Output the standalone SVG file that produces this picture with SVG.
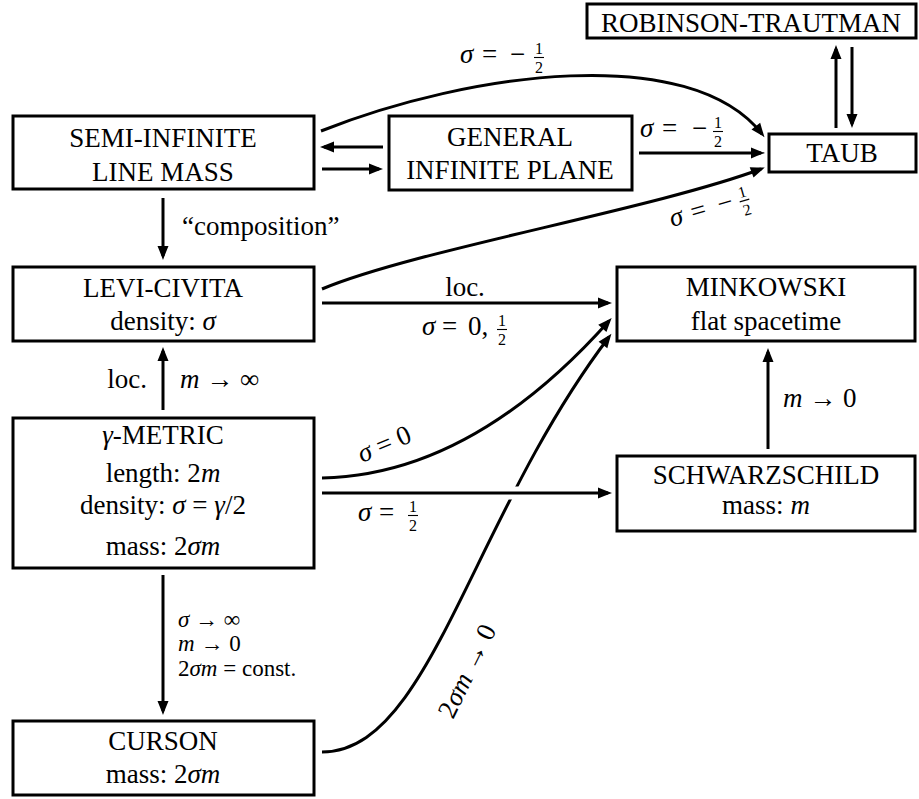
<svg xmlns="http://www.w3.org/2000/svg" width="919" height="799" viewBox="0 0 919 799">
<defs>
<style>
.box{fill:#fff;stroke:#000;stroke-width:3}
text{font-family:'Liberation Serif','DejaVu Serif',serif}
.t{font-size:27px;fill:#000;text-anchor:middle}
.l{font-size:27px;fill:#000}
.s{font-size:23px;fill:#000}
.fr{font-size:16px;fill:#000;text-anchor:middle}
.i{font-style:italic}
.c{fill:none;stroke:#000;stroke-width:3;marker-end:url(#ah)}
.bar{stroke:#000;stroke-width:1.1}
.gap{fill:none;stroke:#fff;stroke-width:13}
</style>
<marker id="ah" viewBox="-11 -6 16 12" refX="0" refY="0" markerWidth="16" markerHeight="12" orient="auto" markerUnits="userSpaceOnUse">
<path d="M4,0 Q-3,-2.6 -10,-5.5 L-10,5.5 Q-3,2.6 4,0 Z" fill="#000"/>
</marker>
</defs>
<rect width="919" height="799" fill="#fff"/>

<g id="robinson-trautman">
<rect class="box" x="587" y="4" width="329" height="34"/>
<text class="t" x="751" y="32">ROBINSON-TRAUTMAN</text>
</g>
<g id="taub">
<rect class="box" x="769" y="134" width="147" height="38"/>
<text class="t" x="842" y="162">TAUB</text>
</g>
<g id="semi-infinite">
<rect class="box" x="13" y="116" width="301" height="73"/>
<text class="t" x="163" y="147">SEMI-INFINITE</text>
<text class="t" x="163" y="181">LINE MASS</text>
</g>
<g id="general-plane">
<rect class="box" x="389" y="116" width="243" height="74"/>
<text class="t" x="510" y="146">GENERAL</text>
<text class="t" x="510" y="179">INFINITE PLANE</text>
</g>
<g id="levi-civita">
<rect class="box" x="13" y="267" width="301" height="74"/>
<text class="t" x="163" y="297">LEVI-CIVITA</text>
<text class="t" x="163" y="330">density: <tspan class="i">σ</tspan></text>
</g>
<g id="minkowski">
<rect class="box" x="617" y="267" width="298" height="74"/>
<text class="t" x="766" y="296">MINKOWSKI</text>
<text class="t" x="766" y="330">flat spacetime</text>
</g>
<g id="gamma-metric">
<rect class="box" x="13" y="418" width="301" height="150"/>
<text class="t" x="163" y="444"><tspan class="i">γ</tspan>-METRIC</text>
<text class="t" x="163" y="482">length: 2<tspan class="i">m</tspan></text>
<text class="t" x="163" y="514">density: <tspan class="i">σ</tspan> = <tspan class="i">γ</tspan>/2</text>
<text class="t" x="163" y="555">mass: 2<tspan class="i">σm</tspan></text>
</g>
<g id="schwarzschild">
<rect class="box" x="617" y="456" width="298" height="75"/>
<text class="t" x="766" y="484">SCHWARZSCHILD</text>
<text class="t" x="766" y="514">mass: <tspan class="i">m</tspan></text>
</g>
<g id="curson">
<rect class="box" x="13" y="721" width="301" height="74"/>
<text class="t" x="163" y="750">CURSON</text>
<text class="t" x="163" y="783">mass: 2<tspan class="i">σm</tspan></text>
</g>

<g id="connectors">
<path class="c" d="M836,128 V49"/>
<path class="c" d="M852,47 V124"/>
<path class="c" d="M321,131 C470,72 690,42 762,134"/>
<path class="c" d="M639,153 H761"/>
<path class="c" d="M322,289 C415,250 650,210 761,169"/>
<path class="c" d="M383,147 H324"/>
<path class="c" d="M322,169 H379"/>
<path class="c" d="M163,198 V256"/>
<path class="c" d="M163,410 V351"/>
<path class="c" d="M163,575 V711"/>
<path class="c" d="M322,303 H608"/>
<path class="c" d="M768,449 V352"/>
<path class="c" d="M322,478 C430,476 525,415 609,321"/>
<path class="c" d="M322,752 C430,752 470,520 609,337"/>
<path class="gap" d="M492,493 H524"/>
<path class="c" d="M322,493 H608"/>
</g>

<g id="labels">
<text class="l" x="460" y="63"><tspan class="i">σ</tspan></text>
<text class="l" x="482" y="63">=</text>
<text class="l" x="510" y="63">−</text>
<text class="fr" x="539" y="54">1</text><line class="bar" x1="534" y1="57.5" x2="544" y2="57.5"/><text class="fr" x="539" y="72.5">2</text>

<text class="l" x="640" y="137"><tspan class="i">σ</tspan></text>
<text class="l" x="662" y="137">=</text>
<text class="l" x="692" y="137">−</text>
<text class="fr" x="718" y="128">1</text><line class="bar" x1="713" y1="131.5" x2="723" y2="131.5"/><text class="fr" x="718" y="146.5">2</text>

<g transform="translate(672,227) rotate(-16)">
<text class="l" x="0" y="0"><tspan class="i">σ</tspan></text>
<text class="l" x="22" y="0">=</text>
<text class="l" x="50" y="0">−</text>
<text class="fr" x="77" y="-9">1</text><line class="bar" x1="72" y1="-5.5" x2="82" y2="-5.5"/><text class="fr" x="77" y="9.5">2</text>
</g>

<text class="t" x="465" y="296">loc.</text>
<text class="l" x="422" y="335"><tspan class="i">σ</tspan></text>
<text class="l" x="442" y="335">=</text>
<text class="l" x="468" y="335">0,</text>
<text class="fr" x="502" y="326">1</text><line class="bar" x1="497" y1="329.5" x2="507" y2="329.5"/><text class="fr" x="502" y="344.5">2</text>

<g transform="translate(362,463) rotate(-23)">
<text class="l" x="0" y="0"><tspan class="i">σ</tspan> = 0</text>
</g>

<text class="l" x="358" y="521"><tspan class="i">σ</tspan></text>
<text class="l" x="379" y="521">=</text>
<text class="fr" x="413" y="512">1</text><line class="bar" x1="408" y1="515.5" x2="418" y2="515.5"/><text class="fr" x="413" y="530.5">2</text>

<g transform="translate(453,720) rotate(-64)">
<text class="l" x="0" y="0">2<tspan class="i">σm</tspan> → 0</text>
</g>

<text class="l" x="783" y="407"><tspan class="i">m</tspan> → 0</text>
<text class="l" x="147" y="388" text-anchor="end">loc.</text>
<text class="l" x="180" y="388"><tspan class="i">m</tspan> → ∞</text>
<text class="l" x="182" y="235">“composition”</text>
<text class="s" x="178" y="627"><tspan class="i">σ</tspan> → ∞</text>
<text class="s" x="178" y="651"><tspan class="i">m</tspan> → 0</text>
<text class="s" x="178" y="676">2<tspan class="i">σm</tspan> = const.</text>
</g>
</svg>
